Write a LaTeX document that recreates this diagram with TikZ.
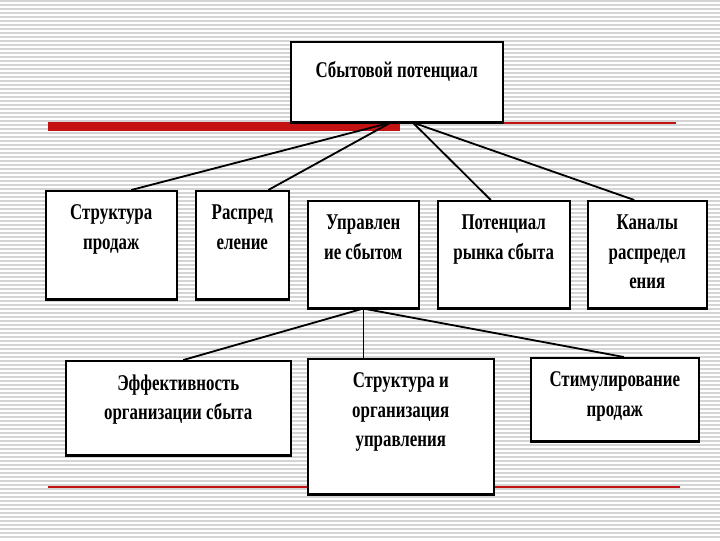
\documentclass[tikz,border=0pt]{standalone}
\usepackage{fontspec}
\setmainfont{Liberation Serif}[FakeStretch=0.75]
\usepackage{xcolor}
\usepackage[]{tikz}
\usetikzlibrary{calc}

\definecolor{barred}{RGB}{196,18,18}
\newlength\unitpx
\setlength\unitpx{0.025cm}
\newcommand\celltext[4][10pt]{\parbox[c][#3\unitpx][t]{#2\unitpx}{\centering\vspace*{#1}#4}}

\begin{document}
\begin{tikzpicture}[x=0.025cm,y=-0.025cm]
                \useasboundingbox (0,0) rectangle (720,540);
                \fill[white] (0,0) rectangle (720,540);
                \foreach \y in {1,5,...,540}
                    \draw[black!17,line width=0.9pt] (0,\y) -- (720,\y);
                % red rules
                \fill[barred] (48,122) rectangle (400,131);
                \draw[barred,line width=1.4pt] (400,123) -- (676,123);
                \draw[barred,line width=1pt] (48,487) -- (680,487);
                \begin{scope}[every node/.style={draw,line width=1.1pt,fill=white,inner sep=0pt,
                    anchor=north west,font=\bfseries\fontsize{16}{21}\selectfont}]
                    \node (top) at (290,41) {\celltext[14pt]{212}{80}{Сбытовой потенциал}};
                    \node (b1) at (45,190) {\celltext{131}{108}{Структура\\продаж}};
                    \node (b2) at (195,190) {\celltext{93}{108}{Распред\\еление}};
                    \node (b3) at (307,200) {\celltext{111}{107}{Управлен\\ие сбытом}};
                    \node (b4) at (437,200) {\celltext{132}{107}{Потенциал\\рынка сбыта}};
                    \node (b5) at (587,200) {\celltext{119}{107}{Каналы\\распредел\\ения}};
                    \node (b6) at (65,360) {\celltext{225}{94}{Эффективность\\организации сбыта}};
                    \node (b7) at (307,358) {\celltext{186}{135}{Структура и\\организация\\управления}};
                    \node (b8) at (530,357) {\celltext{168}{83}{Стимулирование\\продаж}};
                \end{scope}
                \foreach \n in {top,b1,b2,b3,b4,b5,b6,b7,b8}
                    \draw[line width=2.6pt] (\n.south west) -- (\n.south east);
                \begin{scope}[every edge/.style={draw=black,line width=1.3pt}]
                    \path [-] ($(top.south)+(-6,0)$) edge ($(b1.north)+(20,0)$);
                    \path [-] ($(top.south)+(-6,0)$) edge ($(b2.north)+(26,0)$);
                    \path [-] ($(top.south)+(16,0)$) edge ($(b4.north)+(-13,0)$);
                    \path [-] ($(top.south)+(16,0)$) edge ($(b5.north)+(-13,0)$);
                    \path [-] (b3.south) edge ($(b6.north)+(5,0)$);
                    \path [-] (b3.south) edge ($(b8.north)+(9,0)$);
                \end{scope}
                \draw[line width=0.7pt] ($(top.south)+(5,0)$) -- ($(top.south)+(5,0)$ |- b3.north);
                \draw[line width=0.7pt] (b3.south) -- (b3.south |- b7.north);
            \end{tikzpicture}
\end{document}
